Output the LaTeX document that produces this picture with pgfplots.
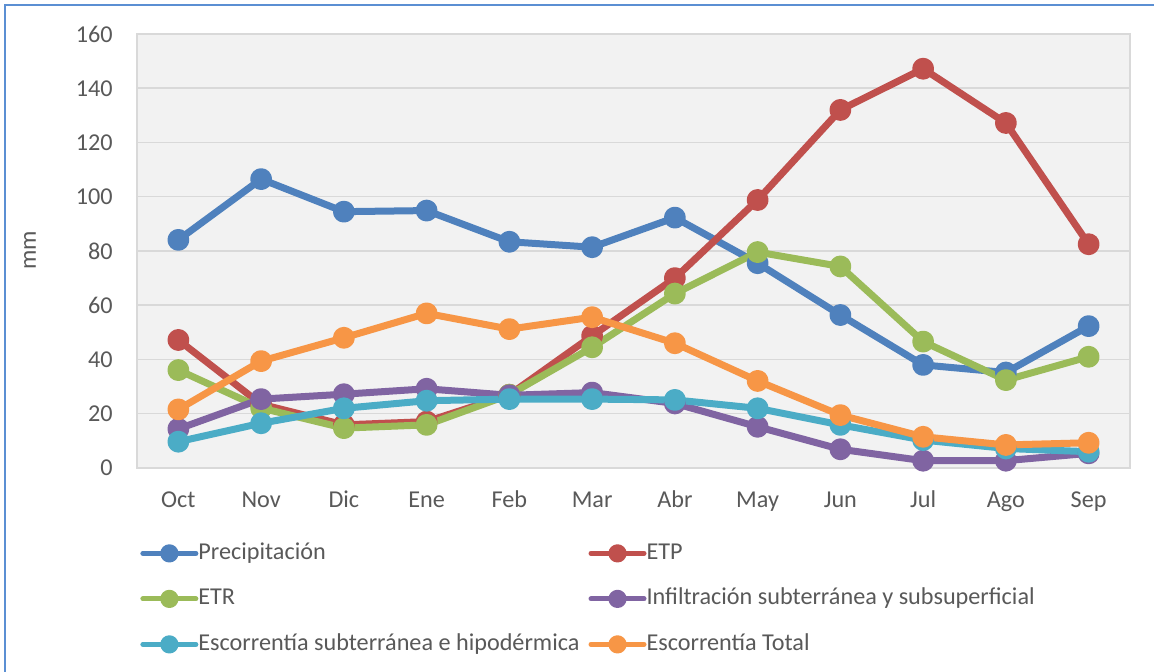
\documentclass[border=0pt]{standalone}
\usepackage{fontspec}
\setmainfont{Carlito}
\usepackage{pgfplots}
\pgfplotsset{compat=1.18}
\definecolor{cP}{HTML}{4F81BD}
\definecolor{cETP}{HTML}{C0504D}
\definecolor{cETR}{HTML}{9BBB59}
\definecolor{cInf}{HTML}{8064A2}
\definecolor{cEs}{HTML}{4BACC6}
\definecolor{cEt}{HTML}{F79646}
\definecolor{gridc}{HTML}{D9D9D9}
\definecolor{bgc}{HTML}{F2F2F2}
\definecolor{labc}{HTML}{595959}
\definecolor{framec}{HTML}{5B8FD3}
\begin{document}
\begin{tikzpicture}[font=\fontsize{12.1}{14.5}\selectfont, x=1pt, y=1pt]
\useasboundingbox (0,0) rectangle (577,336);
\fill[white] (0,0) rectangle (577,336);
\draw[framec, line width=1pt] (2.5,0) -- (2.5,333.5) -- (577,333.5);
\begin{axis}[
  at={(68.5pt,102pt)}, anchor=south west,
  scale only axis, width=496.5pt, height=217pt,
  xmin=-0.5, xmax=11.5, ymin=0, ymax=160,
  xtick={0,...,11},
  xticklabels={Oct,Nov,Dic,Ene,Feb,Mar,Abr,May,Jun,Jul,Ago,Sep},
  ytick={0,20,...,160},
  ymajorgrids,
  grid style={gridc, line width=0.75pt},
  axis line style={gridc, line width=1pt},
  axis background/.style={fill=bgc},
  major tick length=0pt,
  tick label style={text=labc, inner sep=0pt},
  xticklabel style={text height=7.6pt, text depth=0pt},
  xticklabel shift=11.9pt,
  yticklabel shift=12pt,
  /pgf/number format/assume math mode=true,
  ylabel={mm},
  every axis y label/.style={at={(axis description cs:-0.1078,0.502)}, rotate=90, anchor=center, text=labc},
  legend columns=2,
  legend cell align=left,
  legend style={at={(axis description cs:0.003,-0.3016)}, anchor=west, draw=none, fill=none,
    inner sep=0pt, row sep=11.75pt,
    nodes={inner sep=0pt, text=labc, text height=8.5pt, text depth=2.5pt},
    /tikz/every odd column/.append style={column sep=0pt},
    /tikz/every even column/.append style={column sep=4.5pt}},
  legend image code/.code={\draw[#1, line width=2.5pt, line cap=round, mark size=3.3pt, mark repeat=2, mark phase=2] plot coordinates {(0pt,0pt) (13.25pt,0pt) (26.5pt,0pt)};},
  every axis plot/.append style={line width=3.5pt, line join=round, mark=*, mark size=3.7pt, mark options={draw=none}},
]
\addplot[cP, mark options={fill=cP}] coordinates {(0,84.1) (1,106.5) (2,94.5) (3,94.9) (4,83.4) (5,81.4) (6,92.3) (7,75.5) (8,56.4) (9,38.0) (10,35.2) (11,52.3)};
\addlegendentry{Precipitación}
\addplot[cETP, mark options={fill=cETP}] coordinates {(0,47.2) (1,23.5) (2,15.9) (3,17.1) (4,27.0) (5,48.7) (6,70.0) (7,98.8) (8,132.0) (9,147.2) (10,127.2) (11,82.5)};
\addlegendentry{ETP}
\addplot[cETR, mark options={fill=cETR}] coordinates {(0,36.1) (1,22.1) (2,14.7) (3,15.9) (4,27.0) (5,44.5) (6,64.3) (7,79.6) (8,74.3) (9,46.6) (10,32.4) (11,41.0)};
\addlegendentry{ETR}
\addplot[cInf, mark options={fill=cInf}] coordinates {(0,14.4) (1,25.4) (2,27.2) (3,29.2) (4,26.8) (5,27.8) (6,23.8) (7,15.2) (8,6.9) (9,2.7) (10,2.7) (11,5.4)};
\addlegendentry{Infiltración subterránea y subsuperficial}
\addplot[cEs, mark options={fill=cEs}] coordinates {(0,9.7) (1,16.5) (2,22.0) (3,24.8) (4,25.4) (5,25.4) (6,25.1) (7,22.0) (8,15.9) (9,10.3) (10,7.2) (11,6.0)};
\addlegendentry{Escorrentía subterránea e hipodérmica}
\addplot[cEt, mark options={fill=cEt}] coordinates {(0,21.6) (1,39.4) (2,48.0) (3,57.0) (4,51.2) (5,55.6) (6,46.0) (7,32.1) (8,19.5) (9,11.5) (10,8.5) (11,9.3)};
\addlegendentry{Escorrentía Total}
\end{axis}
\end{tikzpicture}
\end{document}
